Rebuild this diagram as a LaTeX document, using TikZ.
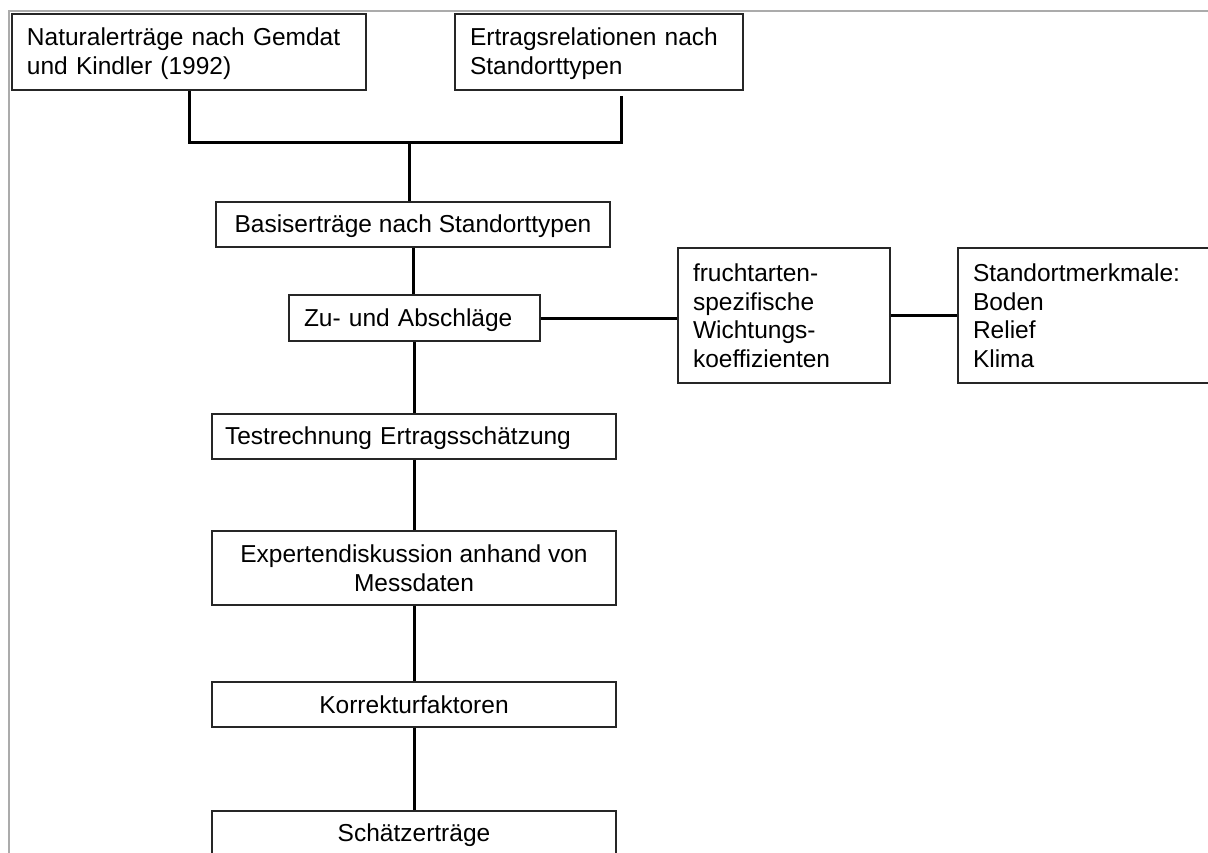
\documentclass[tikz,border=0pt]{standalone}
\usepackage{fontspec}
\setmainfont{Liberation Sans}
\newcommand\mys{\rule[-4pt]{0pt}{26pt}}
\begin{document}
\begin{tikzpicture}[x=1pt,y=-1pt,
  box/.style={draw=black!85, line width=1.8pt, inner xsep=15pt, inner ysep=0pt,
    font=\fontsize{24.5}{29}\selectfont, text=black},
  lbox/.style={box, align=left},
  cbox/.style={box, align=center},
  link/.style={line width=3pt, black},
  frame/.style={line width=2pt, color={rgb,255:red,171;green,171;blue,171}}]
\useasboundingbox (0,0) rectangle (1208,853);
\clip (0,0) rectangle (1208,853);
\fill[white] (0,0) rectangle (1208,853);
\draw[frame] (9,860) -- (9,11) -- (1215,11);

\node[lbox, text width=324pt, minimum height=76pt] (b1) at (189,52) {\mys Naturalerträge nach Gemdat\\und Kindler (1992)\mys};
\node[lbox, text width=258pt, minimum height=76pt] (b2) at (599,52) {\mys Ertragsrelationen nach\\Standorttypen\mys};
\node[cbox, minimum width=394pt, minimum height=45pt] (basis) at (413,224.5) {\mys Basiserträge nach Standorttypen};
\node[lbox, text width=221pt, minimum height=46pt] (zu) at (414.5,318) {\mys Zu- und Abschläge};
\node[lbox, text width=182pt, minimum height=135pt] (fr) at (784,315.5) {\mys fruchtarten-\\spezifische\\Wichtungs-\\koeffizienten\mys};
\node[lbox, text width=232pt, minimum height=135pt] (so) at (1089,315.5) {\mys Standortmerkmale:\\Boden\\Relief\\Klima\mys};
\node[lbox, inner xsep=13pt, text width=378pt, minimum height=45pt] (test) at (414,436.5) {\mys Testrechnung Ertragsschätzung};
\node[cbox, minimum width=404pt, minimum height=74pt] (exp) at (414,568) {\mys Expertendiskussion anhand von\\Messdaten\mys};
\node[cbox, minimum width=404pt, minimum height=45pt] (kor) at (414,704.5) {\mys Korrekturfaktoren};
\node[cbox, minimum width=404pt, minimum height=45pt] (sch) at (414,833.5) {\mys Schätzerträge};

\coordinate (j) at (409,143);
\draw[link] (b1.south) |- (j);
\draw[link] ([xshift=22pt,yshift=-5pt]b2.south) |- (j);
\draw[link] (j) -- (j |- basis.north);
\draw[link] (basis.south) -- (basis.south |- zu.north);
\draw[link] (zu.south) -- (zu.south |- test.north);
\draw[link] (zu.east) -- (fr.west |- zu.east);
\draw[link] (fr.east) -- (so.west);
\draw[link] (test.south) -- (exp.north);
\draw[link] (exp.south) -- (kor.north);
\draw[link] (kor.south) -- (sch.north);
\end{tikzpicture}
\end{document}
